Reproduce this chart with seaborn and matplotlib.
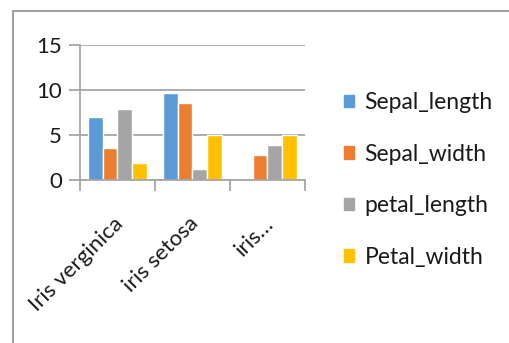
import numpy as np
import pandas as pd
import seaborn as sns
import matplotlib.pyplot as plt
import matplotlib.transforms as mtransforms
from matplotlib.patches import Rectangle
from matplotlib.ticker import FixedLocator

# ------------------------------
# Data
# ------------------------------
species = ["Iris verginica", "iris setosa", "iris…"]
series = ["Sepal_length", "Sepal_width", "petal_length", "Petal_width"]
sepal_length = [7.0, 9.7, 0.0]
sepal_width = [3.5, 8.6, 2.8]
petal_length = [7.9, 1.2, 3.9]
petal_width = [1.9, 5.0, 5.0]
colors = ["#5B9BD5", "#ED7D31", "#A5A5A5", "#FFC000"]

df = pd.DataFrame({
    "species": species * 4,
    "measure": np.repeat(series, len(species)),
    "value": sepal_length + sepal_width + petal_length + petal_width,
})

# ------------------------------
# Plot
# ------------------------------
sns.set_style("white")
plt.rcParams["font.family"] = ["Lato", "DejaVu Sans"]

fig = plt.figure(figsize=(5.10, 3.43), dpi=100)
ax = fig.add_axes([80 / 510, 1 - 180 / 343, 225 / 510, 135 / 343])

sns.barplot(data=df, x="species", y="value", hue="measure", order=species,
            hue_order=series, palette=colors, width=0.78, saturation=1,
            ax=ax, legend=False)

grid_c = "#A6A6A6"
txt_c = "#1A1A1A"
ax.set_xlim(-0.5, 2.5)
ax.set_ylim(0, 15)
ax.set_yticks([0, 5, 10, 15])
ax.yaxis.grid(True, color=grid_c, linewidth=1.3)
ax.set_axisbelow(True)
for s in ["top", "right"]:
    ax.spines[s].set_visible(False)
for s in ["left", "bottom"]:
    ax.spines[s].set_color(grid_c)
    ax.spines[s].set_linewidth(1.3)
ax.set_xlabel("")
ax.set_ylabel("")

ax.tick_params(axis="y", length=8, color=grid_c, width=1.3, labelsize=16, pad=5,
               left=True, labelcolor=txt_c)
ax.tick_params(axis="x", which="major", length=0, labelsize=16, pad=24,
               labelcolor=txt_c)
ax.xaxis.set_minor_locator(FixedLocator([-0.5, 0.5, 1.5, 2.5]))
ax.tick_params(axis="x", which="minor", length=8, color=grid_c, width=1.3, bottom=True)
shift = mtransforms.ScaledTranslation(-4 / 100, 0, fig.dpi_scale_trans)
for lab in ax.get_xticklabels():
    lab.set_rotation(45)
    lab.set_ha("right")
    lab.set_rotation_mode("anchor")
    lab.set_transform(lab.get_transform() + shift)

handles = [Rectangle((0, 0), 1, 1, color=c) for c in colors]
fig.legend(handles, series, loc="center left", bbox_to_anchor=(344 / 510, 1 - 180 / 343),
           frameon=False, fontsize=16.5, borderpad=0, borderaxespad=0,
           handlelength=0.45, handleheight=0.45, handletextpad=0.45, labelspacing=1.33,
           labelcolor=txt_c)

# chart frame
fig.patches.append(Rectangle((13 / 510, -0.1), 1.2, 1 - 11 / 343 + 0.1,
                             transform=fig.transFigure, fill=False,
                             edgecolor="#A0A0A0", linewidth=1.5))

plt.savefig("out.png", dpi=100)
